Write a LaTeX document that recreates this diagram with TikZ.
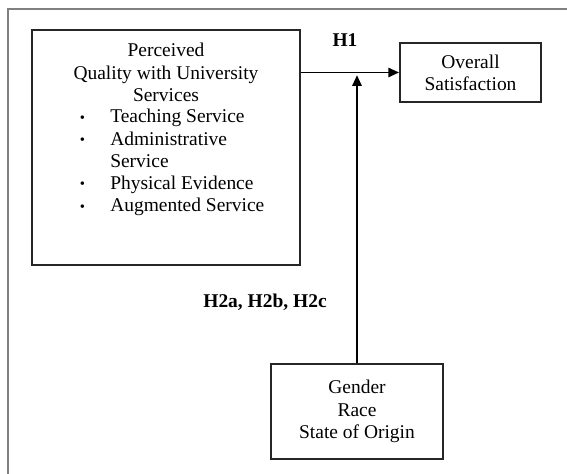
\documentclass[tikz,border=0pt]{standalone}
\usepackage{fontspec}
\setmainfont{Liberation Serif}
\usetikzlibrary{arrows.meta, positioning}
\newcommand{\bul}{\makebox[24.75pt][l]{\hspace{2pt}\raisebox{0.5pt}{\fontsize{11}{11}\selectfont\textbullet}}}

\begin{document}
\begin{tikzpicture}[
    x=0.75pt, y=-0.75pt,
    box/.style={rectangle, draw=black!85, line width=1.5pt, align=center,
                inner sep=0pt, font=\fontsize{14.6}{16.7}\selectfont},
    txt/.style={inner sep=0pt, align=center, font=\fontsize{14.6}{16.7}\selectfont},
    hyp/.style={inner sep=0pt, font=\fontsize{14.6}{16.7}\selectfont\bfseries},
    arrow/.style={-{Triangle[length=8pt, width=7pt]}, line width=1.3pt}
]
    \useasboundingbox (0,0) rectangle (567,474);
    % Frame
    \draw[gray, line width=1.5pt] (8,474) -- (8,9) -- (567,9);

    % Boxes
    \node[box, minimum width=201pt, minimum height=176.25pt] (pq) at (166,147.5) {};
    \node[box, minimum width=105.75pt, minimum height=44.25pt] (os) at (470.5,72.5) {Overall\\Satisfaction};
    \node[box, minimum width=129pt, minimum height=71.25pt] (dm) at (357,411.5) {Gender\\Race\\State of Origin};

    % Text of the quality box
    \node[txt, anchor=north] (pqtitle) at (166,43) {Perceived\\Quality with University\\Services};
    \node[txt, align=left, anchor=north west] (pqlist) at (77,109)
        {\bul Teaching Service\\\bul Administrative\\\hspace*{24.75pt}Service\\\bul Physical Evidence\\\bul Augmented Service};

    % Arrows
    \draw[arrow] (pq.east |- os.west) -- (os.west);
    \coordinate (meet) at (dm.north |- os.west);
    \draw[arrow] (dm.north) -- ([yshift=-2pt]meet);

    % Labels
    \node[hyp] (h1) at (345,40) {H1};
    \node[hyp] (h2) at (265,302) {H2a, H2b, H2c};
\end{tikzpicture}
\end{document}
